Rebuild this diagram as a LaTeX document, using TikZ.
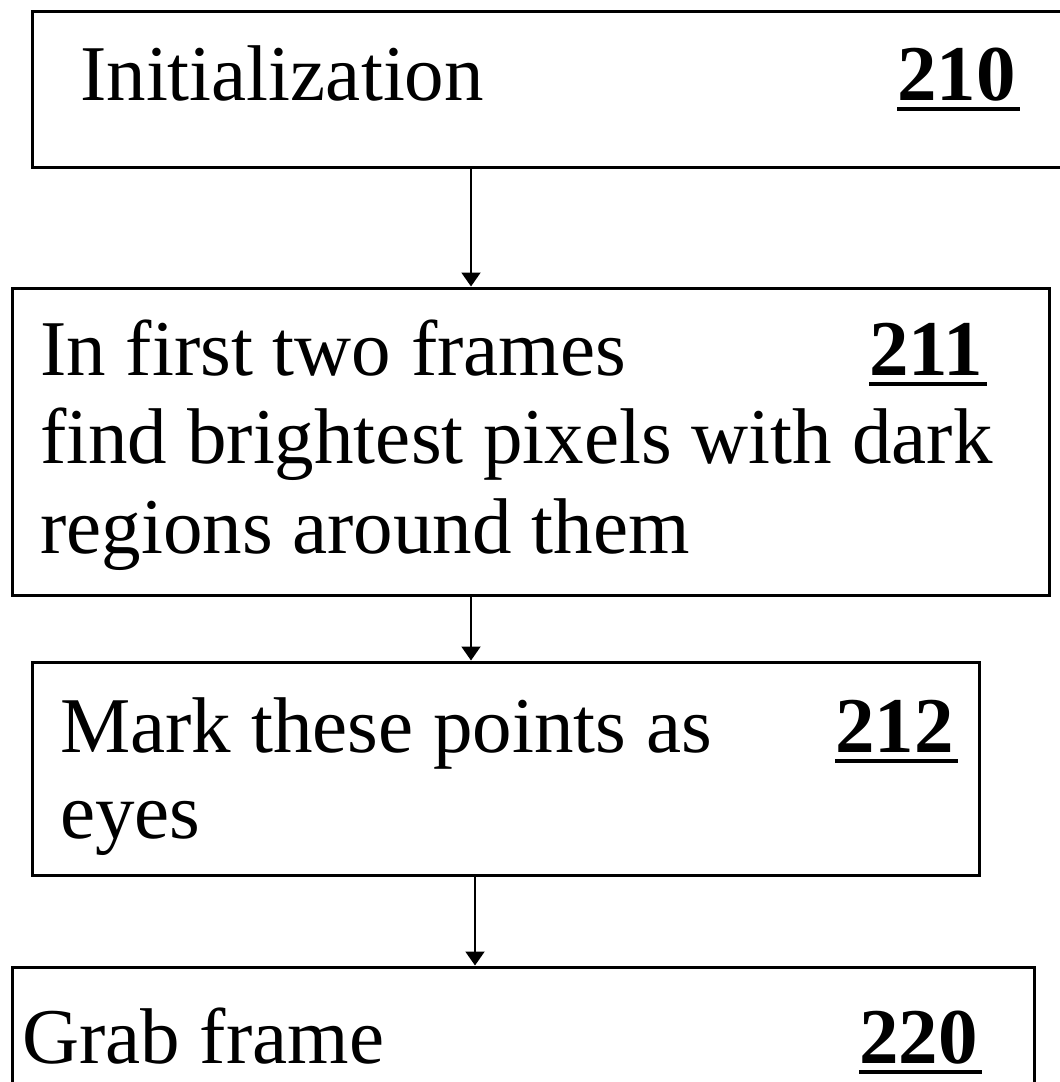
\documentclass[tikz,border=0pt]{standalone}
\usepackage{fontspec}
\setmainfont{Liberation Serif}
\usetikzlibrary{arrows.meta}

% bold reference numeral with a heavy underline
\newcommand\refnum[1]{\setbox0\hbox{\bfseries #1}\rlap{\rule[-11pt]{\dimexpr\wd0+4pt\relax}{4pt}}\box0}

\tikzset{
  stepbox/.style={draw, line width=3pt, rectangle, inner sep=0pt},
  txt/.style={anchor=base west, inner sep=0pt, font=\fontsize{79pt}{89pt}\selectfont},
  arr/.style={line width=2pt, -{Triangle[width=19pt,length=14pt]}},
}

\begin{document}
\begin{tikzpicture}[x=1pt, y=-1pt]
  \useasboundingbox (0,0) rectangle (1060,1082);
  \clip (0,0) rectangle (1060,1082);

  % process boxes
  \node[stepbox, minimum width=1043pt, minimum height=156pt] (b1) at (553.5,89) {};
  \node[stepbox, minimum width=1037pt, minimum height=307pt] (b2) at (530.5,441.5) {};
  \node[stepbox, minimum width=947pt, minimum height=213pt] (b3) at (505.5,768.5) {};
  \node[stepbox, minimum width=1022pt, minimum height=200pt] (b4) at (523,1067) {};

  % box texts
  \node[txt] (t1) at (80,100) {Initialization};
  \node[txt] (n1) at (897,100) {\refnum{210}};

  \node[txt] (t2a) at (40,375) {In first two frames};
  \node[txt] (n2) at (869,375) {\refnum{211}};
  \node[txt] (t2b) at (40,463) {find brightest pixels with dark};
  \node[txt] (t2c) at (40,553) {regions around them};

  \node[txt] (t3a) at (60,752) {Mark these points as};
  \node[txt] (n3) at (835,752) {\refnum{212}};
  \node[txt] (t3b) at (60,838) {eyes};

  \node[txt] (t4) at (22,1063) {Grab frame};
  \node[txt] (n4) at (859,1063) {\refnum{220}};

  % connector columns
  \coordinate (c1) at (471,0);
  \coordinate (c3) at (475,0);

  \draw[arr] (c1 |- b1.south) -- (c1 |- b2.north);
  \draw[arr] (c1 |- b2.south) -- (c1 |- b3.north);
  \draw[arr] (c3 |- b3.south) -- (c3 |- b4.north);
\end{tikzpicture}
\end{document}
